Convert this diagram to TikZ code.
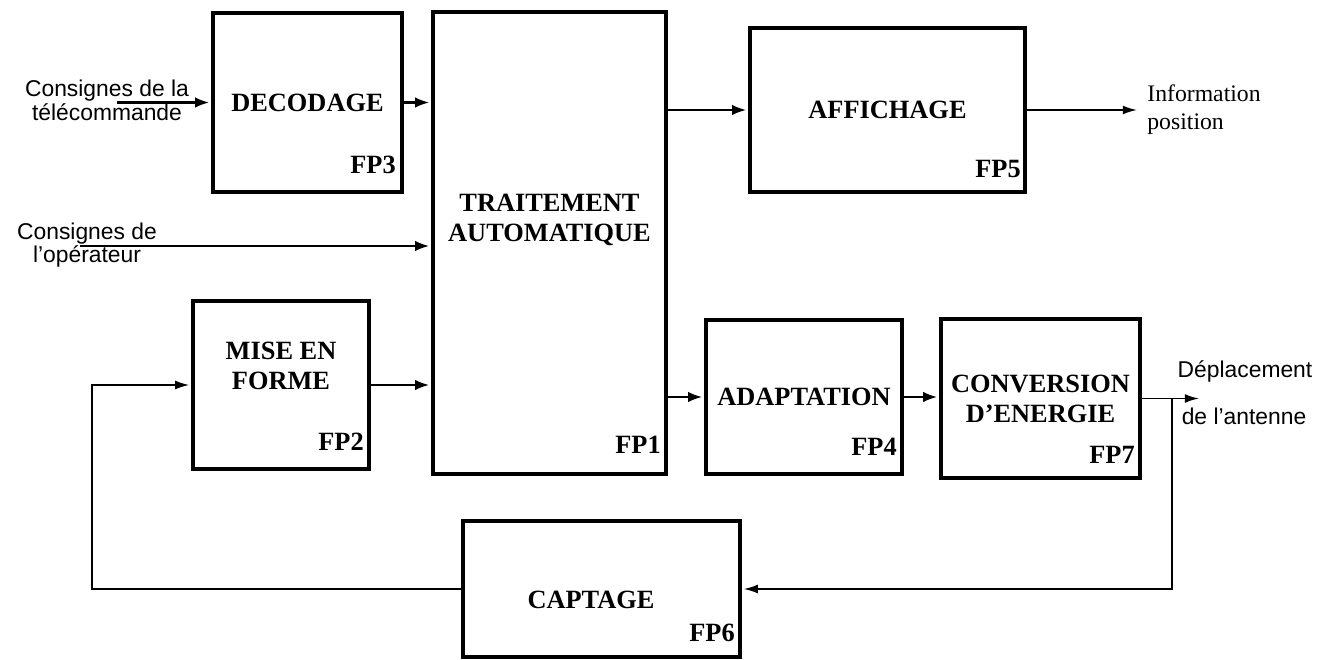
\documentclass[tikz,border=0pt]{standalone}
\usepackage{fontspec}
\setmainfont{Liberation Serif}
\setsansfont{Liberation Sans}
\usetikzlibrary{arrows.meta}

\tikzset{
  bloc/.style={draw, line width=2.3pt, inner sep=0pt, align=center, font=\bfseries\fontsize{15}{17}\selectfont},
  titre/.style={align=center, font=\bfseries\fontsize{15}{17}\selectfont},
  fp/.style={anchor=base east, inner sep=0pt, font=\bfseries\fontsize{15}{17}\selectfont},
  consigne/.style={align=center, font=\sffamily\fontsize{13}{13.5}\selectfont},
  fleche/.style={-{Latex[length=8pt,width=6pt]}, line width=1.3pt, shorten >=1pt},
  sortief/.style={-{Latex[length=8pt,width=5pt]}, line width=1pt},
  retour/.style={-{Latex[length=8pt,width=5pt]}, line width=0.8pt, shorten >=1pt},
}

\begin{document}
\begin{tikzpicture}
\useasboundingbox (0,0) rectangle (26.58,13.18);

% blocs
\node[bloc, minimum width=3.78cm, minimum height=3.58cm] (dec) at (6.15,11.13) {DECODAGE};
\node[bloc, minimum width=4.66cm, minimum height=9.24cm] (trt) at (10.99,8.32) {};
\node[titre] (trtxt) at (10.99,8.78) {TRAITEMENT\\AUTOMATIQUE};
\node[bloc, minimum width=5.5cm, minimum height=3.28cm] (aff) at (17.75,10.98) {AFFICHAGE};
\node[bloc, minimum width=3.52cm, minimum height=3.36cm] (mef) at (5.62,5.48) {};
\node[titre] (meftxt) at (5.62,5.86) {MISE EN\\FORME};
\node[bloc, minimum width=3.92cm, minimum height=3.08cm] (adap) at (16.08,5.24) {ADAPTATION};
\node[bloc, minimum width=3.98cm, minimum height=3.18cm] (conv) at (20.81,5.21) {CONVERSION\\D’ENERGIE};
\node[bloc, minimum width=5.54cm, minimum height=2.72cm] (cap) at (12.03,1.40) {};
\node[titre] (captxt) at (11.82,1.18) {CAPTAGE};

\node[fp] (fp1) at ([shift={(-0.14,0.46)}]trt.south east) {FP1};
\node[fp] (fp2) at ([shift={(-0.14,0.42)}]mef.south east) {FP2};
\node[fp] (fp3) at ([shift={(-0.16,0.42)}]dec.south east) {FP3};
\node[fp] (fp4) at ([shift={(-0.14,0.42)}]adap.south east) {FP4};
\node[fp] (fp5) at ([shift={(-0.12,0.34)}]aff.south east) {FP5};
\node[fp] (fp6) at ([shift={(-0.14,0.36)}]cap.south east) {FP6};
\node[fp] (fp7) at ([shift={(-0.14,0.34)}]conv.south east) {FP7};

% entrees / sorties
\node[consigne] (tele) at (2.14,11.18) {Consignes de la\\télécommande};
\node[consigne] (oper) at (1.74,8.28) {Consignes de\\l’opérateur};
\node[anchor=west, align=left, inner sep=0pt, font=\fontsize{13.5}{16}\selectfont] (info) at (22.94,10.98) {Information\\position};
\node[consigne] (depl) at (24.9,5.76) {Déplacement};
\node[consigne] (ant) at (24.88,4.86) {de l’antenne};

\coordinate (e1) at (2.34,11.13);
\coordinate (e2) at (1.6,8.26);
\coordinate (gauche) at (1.84,0);
\coordinate (branche) at ([xshift=0.6cm]conv.east);
\coordinate (sortie) at ([xshift=1.14cm]conv.east);

% liaisons
\draw[fleche] (e1) -- (dec.west);
\draw[fleche] (e2) -- (e2 -| trt.west);
\draw[fleche] (dec.east) -- (dec.east -| trt.west);
\draw[fleche] (mef.east) -- (mef.east -| trt.west);
\draw[fleche] (aff.west -| trt.east) -- (aff.west);
\draw[sortief] (aff.east) -- ([xshift=-0.2cm]info.west);
\draw[fleche] (adap.west -| trt.east) -- (adap.west);
\draw[fleche] (adap.east) -- (adap.east -| conv.west);
\draw[sortief] (conv.east) -- (sortie);

% boucle de retour
\draw[retour] (branche) |- (cap.east);
\draw[retour] (cap.west) -| (gauche |- mef.west) -- (mef.west);
\end{tikzpicture}
\end{document}
